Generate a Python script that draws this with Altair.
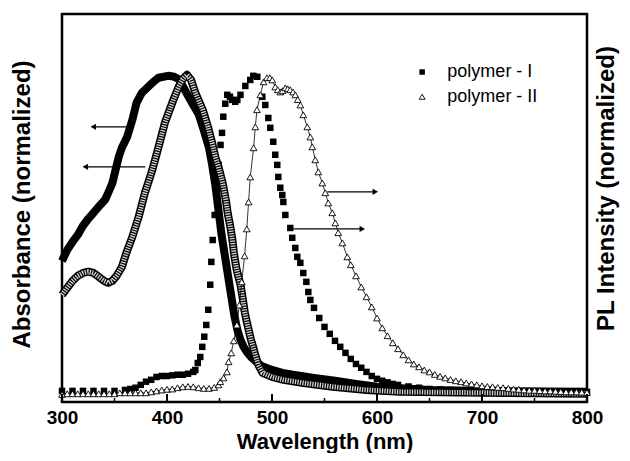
import altair as alt
import pandas as pd

# ---------------- data ----------------
# Absorbance, polymer - I (filled squares, dense -> thick black band)
abs1_nm = [300, 305, 310, 315, 320, 325, 330, 335, 341, 344, 348, 351, 354, 357, 362, 367, 371, 376,
           382, 387, 392, 401, 406, 411, 415, 420, 425, 430, 435, 440, 443, 446, 449, 452, 455, 458,
           461, 464, 467, 470, 473, 476, 480, 485, 490, 500, 510, 520, 540, 560, 580, 600, 650, 700, 800]
abs1_v = [0.413, 0.448, 0.473, 0.495, 0.524, 0.546, 0.565, 0.584, 0.606, 0.628, 0.659, 0.700, 0.741,
          0.770, 0.804, 0.858, 0.912, 0.943, 0.962, 0.978, 0.991, 0.997, 0.995, 0.987, 0.965, 0.934,
          0.905, 0.877, 0.826, 0.770, 0.716, 0.653, 0.574, 0.495, 0.432, 0.369, 0.306, 0.243, 0.196,
          0.164, 0.142, 0.126, 0.110, 0.095, 0.082, 0.069, 0.060, 0.054, 0.044, 0.035, 0.025, 0.016,
          0.006, 0.003, 0.000]

# Absorbance, polymer - II (open triangles, dense -> ribbed band)
abs2_nm = [300, 305, 310, 315, 320, 325, 330, 335, 340, 344, 348, 352, 357, 362, 367, 373, 379, 386,
           392, 398, 405, 411, 415, 419, 423, 427, 434, 439, 443, 446, 449, 453, 456, 458, 460, 462,
           464, 466, 468, 470, 472, 474, 476, 478, 480, 482, 484, 487, 491, 500, 511, 530, 558, 590,
           622, 700, 800]
abs2_v = [0.306, 0.328, 0.350, 0.366, 0.375, 0.379, 0.375, 0.363, 0.350, 0.344, 0.350, 0.366, 0.394,
          0.445, 0.489, 0.552, 0.628, 0.700, 0.773, 0.849, 0.912, 0.962, 0.987, 1.000, 0.984, 0.943,
          0.890, 0.836, 0.785, 0.741, 0.710, 0.659, 0.606, 0.560, 0.527, 0.486, 0.432, 0.391, 0.363,
          0.338, 0.297, 0.252, 0.221, 0.192, 0.164, 0.142, 0.117, 0.085, 0.060, 0.047, 0.038, 0.028,
          0.016, 0.006, 0.000, -0.003, -0.006]

# PL, polymer - I (filled squares)
pl1_nm = [300, 310, 320, 330, 340, 350, 360, 365, 370, 375, 380, 385, 390, 395, 400, 405, 410, 415,
          420, 425, 427, 429.3, 431.7, 433.6, 435.5, 437.4, 439.3, 441.2, 442.2, 443.5, 445.4, 447.3,
          449.2, 451.0, 452.4, 453.6, 455.5, 457.4, 460, 462, 465, 467, 470, 474.6, 479.3, 482.2,
          486, 490.8, 493.6, 496.5, 498.4, 501.2, 503.1, 505, 506, 507.9, 509.8, 510.8, 512.7, 517.4,
          519.3, 522.2, 524.1, 527, 529.8, 532.7, 534.6, 536.5, 540, 545, 550, 555, 560, 565, 570,
          575, 580, 585, 590, 595, 600, 605, 610, 615, 620, 630, 640, 650, 660, 670, 680, 690, 700,
          720, 740, 760, 780, 800]
pl1_v = [0.003, 0.003, 0.003, 0.003, 0.003, 0.003, 0.006, 0.009, 0.013, 0.022, 0.032, 0.038, 0.047,
         0.050, 0.050, 0.052, 0.054, 0.054, 0.057, 0.063, 0.069, 0.091, 0.110, 0.142, 0.174, 0.211,
         0.259, 0.338, 0.410, 0.479, 0.558, 0.637, 0.716, 0.779, 0.817, 0.868, 0.909, 0.937, 0.931,
         0.921, 0.915, 0.921, 0.937, 0.965, 0.984, 0.997, 0.994, 0.931, 0.905, 0.864, 0.833, 0.789,
         0.748, 0.716, 0.678, 0.644, 0.621, 0.599, 0.558, 0.517, 0.486, 0.454, 0.426, 0.407, 0.375,
         0.347, 0.315, 0.290, 0.265, 0.233, 0.205, 0.183, 0.161, 0.142, 0.123, 0.104, 0.088, 0.076,
         0.063, 0.050, 0.041, 0.035, 0.030, 0.025, 0.022, 0.017, 0.013, 0.009, 0.008, 0.006, 0.005,
         0.003, 0.003, 0.002, 0.001, 0.000, 0.000, 0.000]

# PL, polymer - II (open triangles)
pl2_nm = [300, 305, 310, 315, 320, 325, 330, 335, 340, 345, 350, 355, 360, 365, 370, 375, 380, 385,
          390, 395, 400, 405, 410, 415, 420, 425, 430, 435, 440, 445, 449, 450.8, 453.9, 457.1, 458.7,
          461.2, 463.6, 466.5, 468.9, 471.2, 473.9, 476, 477.7, 479.3, 482.5, 484.1, 485.7, 488.9,
          492, 495.2, 498, 500.3, 503.1, 505.5, 507.9, 510, 512.7, 515, 517.4, 520, 522.2, 524.5,
          527, 529.8, 533.6, 536.5, 538.4, 541.2, 544.1, 547.9, 550.8, 553.6, 557.4, 560.3, 563.1,
          567, 571.7, 575, 580, 585, 590, 595, 600, 605, 610, 615, 620, 625, 630, 635, 640, 645, 650,
          655, 660, 665, 670, 675, 680, 685, 690, 695, 700, 705, 710, 715, 720, 725, 730, 735, 740,
          745, 750, 755, 760, 765, 770, 775, 780, 785, 790, 795, 800]
pl2_v = [-0.008, -0.006, -0.006, -0.006, -0.006, -0.006, -0.006, -0.006, -0.006, -0.006, -0.006,
         -0.003, -0.003, -0.003, -0.003, -0.003, -0.003, 0.000, 0.003, 0.006, 0.008, 0.009, 0.013,
         0.016, 0.017, 0.016, 0.013, 0.011, 0.011, 0.014, 0.022, 0.032, 0.044, 0.063, 0.095, 0.123,
         0.161, 0.211, 0.274, 0.347, 0.429, 0.514, 0.599, 0.678, 0.770, 0.836, 0.890, 0.937, 0.978,
         0.991, 0.991, 0.984, 0.962, 0.953, 0.946, 0.950, 0.959, 0.956, 0.953, 0.946, 0.937, 0.922,
         0.905, 0.874, 0.836, 0.804, 0.773, 0.732, 0.694, 0.659, 0.628, 0.596, 0.565, 0.533, 0.502,
         0.470, 0.426, 0.401, 0.366, 0.331, 0.300, 0.268, 0.233, 0.202, 0.177, 0.155, 0.136, 0.117,
         0.101, 0.088, 0.079, 0.069, 0.063, 0.055, 0.049, 0.044, 0.039, 0.035, 0.032, 0.028, 0.025,
         0.022, 0.019, 0.017, 0.016, 0.014, 0.013, 0.011, 0.009, 0.008, 0.006, 0.005, 0.005, 0.004,
         0.003, 0.003, 0.002, 0.001, 0.000, 0.000, 0.000, -0.001, -0.002]

# arrows (annotation): start, end wavelength and level
arrow_x1 = [363.1, 379.3, 552.7, 520.3]
arrow_x2 = [329.8, 322.2, 598.4, 586.0]
arrow_v = [0.836, 0.710, 0.631, 0.514]
arrow_head = ["triangle-left", "triangle-left", "triangle-right", "triangle-right"]

legend_labels = ["polymer - I", "polymer - II"]
legend_v = [1.009, 0.931]
legend_marker_nm = 643
legend_text_nm = 667

major_ticks = [300, 400, 500, 600, 700, 800]
minor_ticks = [350, 450, 550, 650, 750]

# ---------------- chart ----------------
FONT = "Liberation Sans"
XS = alt.Scale(domain=[300, 800], nice=False, zero=False)
YS = alt.Scale(domain=[-0.032, 1.192], nice=False, zero=False)

x_axis = alt.Axis(values=major_ticks, title="Wavelength (nm)", ticks=False, domain=False, grid=False,
                  labelFont=FONT, labelFontSize=19, labelFontWeight="bold", labelColor="black",
                  labelPadding=6, labelFlush=False, labelOverlap=False,
                  titleFont=FONT, titleFontSize=22, titleFontWeight="bold",
                  titleColor="black", titlePadding=4, format="d")
left_axis = alt.Axis(title="Absorbance (normalized)", labels=False, ticks=False, domain=False, grid=False,
                     titleFont=FONT, titleFontSize=24, titleFontWeight="bold", titleColor="black",
                     titlePadding=28, titleY=190)
right_axis = alt.Axis(orient="right", title="PL Intensity (normalized)", labels=False, ticks=False,
                      domain=False, grid=False, titleFont=FONT, titleFontSize=24, titleFontWeight="bold",
                      titleColor="black", titleAngle=270, titleBaseline="top", titlePadding=7, titleY=174)


def X(field):
    return alt.X(field, type="quantitative", scale=XS, axis=x_axis)


YN = alt.Y("v:Q", scale=YS, axis=None)


def df(nm, v):
    return pd.DataFrame({"nm": nm, "v": v})


abs1 = alt.Chart(df(abs1_nm, abs1_v)).mark_line(color="black", strokeWidth=8, strokeJoin="round").encode(
    x=X("nm"), y=alt.Y("v:Q", scale=YS, axis=left_axis))

pl1_pts = alt.Chart(df(pl1_nm, pl1_v)).mark_square(size=42, color="black", opacity=1).encode(x=X("nm"), y=YN)

abs2_outer = alt.Chart(df(abs2_nm, abs2_v)).mark_line(color="black", strokeWidth=8, strokeJoin="round").encode(
    x=X("nm"), y=YN)
abs2_inner = alt.Chart(df(abs2_nm, abs2_v)).mark_line(color="#d4d4d4", strokeWidth=5,
                                                      strokeDash=[1.3, 1.2]).encode(x=X("nm"), y=YN)

pl2_line = alt.Chart(df(pl2_nm, pl2_v)).mark_line(color="black", strokeWidth=0.8).encode(x=X("nm"), y=YN)
pl2_pts = alt.Chart(df(pl2_nm, pl2_v)).mark_point(shape="triangle-up", size=45, filled=True, fill="white",
                                                  stroke="black", strokeWidth=0.9, opacity=1).encode(
    x=X("nm"), y=alt.Y("v:Q", scale=YS, axis=right_axis))

arrows_df = pd.DataFrame({"x1": arrow_x1, "x2": arrow_x2, "v": arrow_v, "head": arrow_head})
arrow_lines = alt.Chart(arrows_df).mark_rule(color="black", strokeWidth=1.2).encode(
    x=X("x1"), x2="x2:Q", y=YN)
arrow_heads = alt.Chart(arrows_df).mark_point(filled=True, color="black", size=40, opacity=1).encode(
    x=X("x2"), y=YN,
    shape=alt.Shape("head:N", scale=alt.Scale(domain=["triangle-left", "triangle-right"],
                                             range=["triangle-left", "triangle-right"]), legend=None))

leg_df = pd.DataFrame({"label": legend_labels, "v": legend_v,
                       "mx": [legend_marker_nm] * 2, "tx": [legend_text_nm] * 2})
leg_sq = alt.Chart(leg_df.iloc[[0]]).mark_square(size=30, color="black", opacity=1).encode(
    x=X("mx"), y=YN)
leg_tri = alt.Chart(leg_df.iloc[[1]]).mark_point(shape="triangle-up", size=35, filled=True, fill="white",
                                                 stroke="black", strokeWidth=0.9, opacity=1).encode(
    x=X("mx"), y=YN)
leg_txt = alt.Chart(leg_df).mark_text(align="left", baseline="middle", font=FONT, fontSize=18,
                                      color="black").encode(x=X("tx"), y=YN, text="label:N")

ticks_major = alt.Chart(pd.DataFrame({"t": major_ticks})).mark_rule(color="black", strokeWidth=2).encode(
    x=X("t"), y=alt.value(388), y2=alt.value(380))
ticks_minor = alt.Chart(pd.DataFrame({"t": minor_ticks})).mark_rule(color="black", strokeWidth=1.5).encode(
    x=X("t"), y=alt.value(388), y2=alt.value(384))

chart = alt.layer(
    abs1, pl1_pts, abs2_outer, abs2_inner, pl2_line, pl2_pts,
    arrow_lines, arrow_heads, leg_sq, leg_tri, leg_txt, ticks_major, ticks_minor
).resolve_scale(y="independent").properties(
    width=525, height=388,
    autosize=alt.AutoSizeParams(type="none"),
    padding={"left": 54, "top": 6, "right": 35, "bottom": 51},
    background="white",
).configure_view(stroke="black", strokeWidth=2.5)

chart.save("out.html", embed_options={"renderer": "svg", "actions": False})
